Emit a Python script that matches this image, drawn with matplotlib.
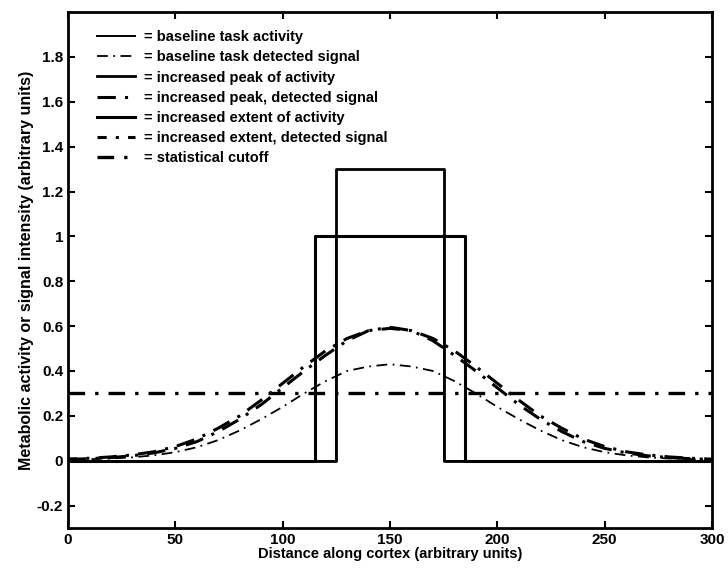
import matplotlib
matplotlib.use("Agg")
import matplotlib.pyplot as plt
from matplotlib.ticker import FormatStrFormatter

# ---- data ----
x_signal = [0, 10, 20, 30, 40, 50, 60, 70, 80, 90, 100, 110, 120, 130, 140, 150,
            160, 170, 180, 190, 200, 210, 220, 230, 240, 250, 260, 270, 280, 290, 300]
baseline_signal = [0.005, 0.007, 0.010, 0.015, 0.024, 0.038, 0.060, 0.092, 0.135, 0.185,
                   0.240, 0.300, 0.355, 0.400, 0.420, 0.430,
                   0.420, 0.400, 0.355, 0.300, 0.240, 0.185, 0.135, 0.092, 0.060, 0.038,
                   0.024, 0.015, 0.010, 0.007, 0.005]
peak_signal = [0.006, 0.009, 0.014, 0.022, 0.035, 0.055, 0.085, 0.130, 0.185, 0.250,
               0.325, 0.400, 0.470, 0.535, 0.580, 0.595,
               0.580, 0.535, 0.470, 0.400, 0.325, 0.250, 0.185, 0.130, 0.085, 0.055,
               0.035, 0.022, 0.014, 0.009, 0.006]
extent_signal = [0.007, 0.011, 0.017, 0.026, 0.040, 0.063, 0.097, 0.145, 0.200, 0.270,
                 0.345, 0.420, 0.490, 0.545, 0.580, 0.590,
                 0.580, 0.545, 0.490, 0.420, 0.345, 0.270, 0.200, 0.145, 0.097, 0.063,
                 0.040, 0.026, 0.017, 0.011, 0.007]

# activity profiles (box functions): x breakpoints and levels
baseline_x = [0, 125, 125, 175, 175, 300]
baseline_y = [0, 0, 1.0, 1.0, 0, 0]
peak_x = [0, 125, 125, 175, 175, 300]
peak_y = [0, 0, 1.3, 1.3, 0, 0]
extent_x = [0, 115, 115, 185, 185, 300]
extent_y = [0, 0, 1.0, 1.0, 0, 0]

cutoff_x = [0, 300]
cutoff_y = [0.3, 0.3]

labels = ["= baseline task activity",
          "= baseline task detected signal",
          "= increased peak of activity",
          "= increased peak, detected signal",
          "= increased extent of activity",
          "= increased extent, detected signal",
          "= statistical cutoff"]

x_ticks = [0, 50, 100, 150, 200, 250, 300]
y_ticks = [-0.2, 0, 0.2, 0.4, 0.6, 0.8, 1.0, 1.2, 1.4, 1.6, 1.8]

# ---- figure ----
plt.rcParams['font.family'] = ['Liberation Sans', 'DejaVu Sans']
fig = plt.figure(figsize=(7.28, 5.73), dpi=100)
ax = fig.add_axes([0.0934, 0.0785, 0.8846, 0.9005])

h1, = ax.plot(baseline_x, baseline_y, color='black', lw=1.4, ls='-')
h2, = ax.plot(x_signal, baseline_signal, color='black', lw=1.3, ls=(0, (6, 3, 1, 3)))
h3, = ax.plot(peak_x, peak_y, color='black', lw=2.0, ls='-')
h4, = ax.plot(x_signal, peak_signal, color='black', lw=2.2, ls=(0, (6, 3, 1, 3)))
h5, = ax.plot(extent_x, extent_y, color='black', lw=2.2, ls='-')
h6, = ax.plot(x_signal, extent_signal, color='black', lw=2.2, ls=(3, (6, 3, 1, 3)))
h7, = ax.plot(cutoff_x, cutoff_y, color='black', lw=2.4, ls=(0, (5, 3, 1, 3)))

ax.set_xlim(0, 300)
ax.set_ylim(-0.3, 2.0)
ax.set_xticks(x_ticks)
ax.set_yticks(y_ticks)
ax.xaxis.set_major_formatter(FormatStrFormatter('%g'))
ax.yaxis.set_major_formatter(FormatStrFormatter('%g'))
ax.tick_params(direction='in', top=True, right=True, length=5, width=1.5,
               labelsize=11)
for lab in ax.get_xticklabels() + ax.get_yticklabels():
    lab.set_fontweight('bold')
for sp in ax.spines.values():
    sp.set_linewidth(2.0)

ax.set_xlabel("Distance along cortex (arbitrary units)", fontsize=10.5,
              fontweight='bold', labelpad=0)
ax.set_ylabel("Metabolic activity or signal intensity (arbitrary units)",
              fontsize=11.5, fontweight='bold', labelpad=2)

leg = ax.legend([h1, h2, h3, h4, h5, h6, h7], labels, loc='upper left',
                bbox_to_anchor=(0.025, 0.99), frameon=False,
                handlelength=2.6, handletextpad=0.6, labelspacing=0.42,
                prop={'weight': 'bold', 'size': 10.5})

fig.savefig("out.png", dpi=100)
